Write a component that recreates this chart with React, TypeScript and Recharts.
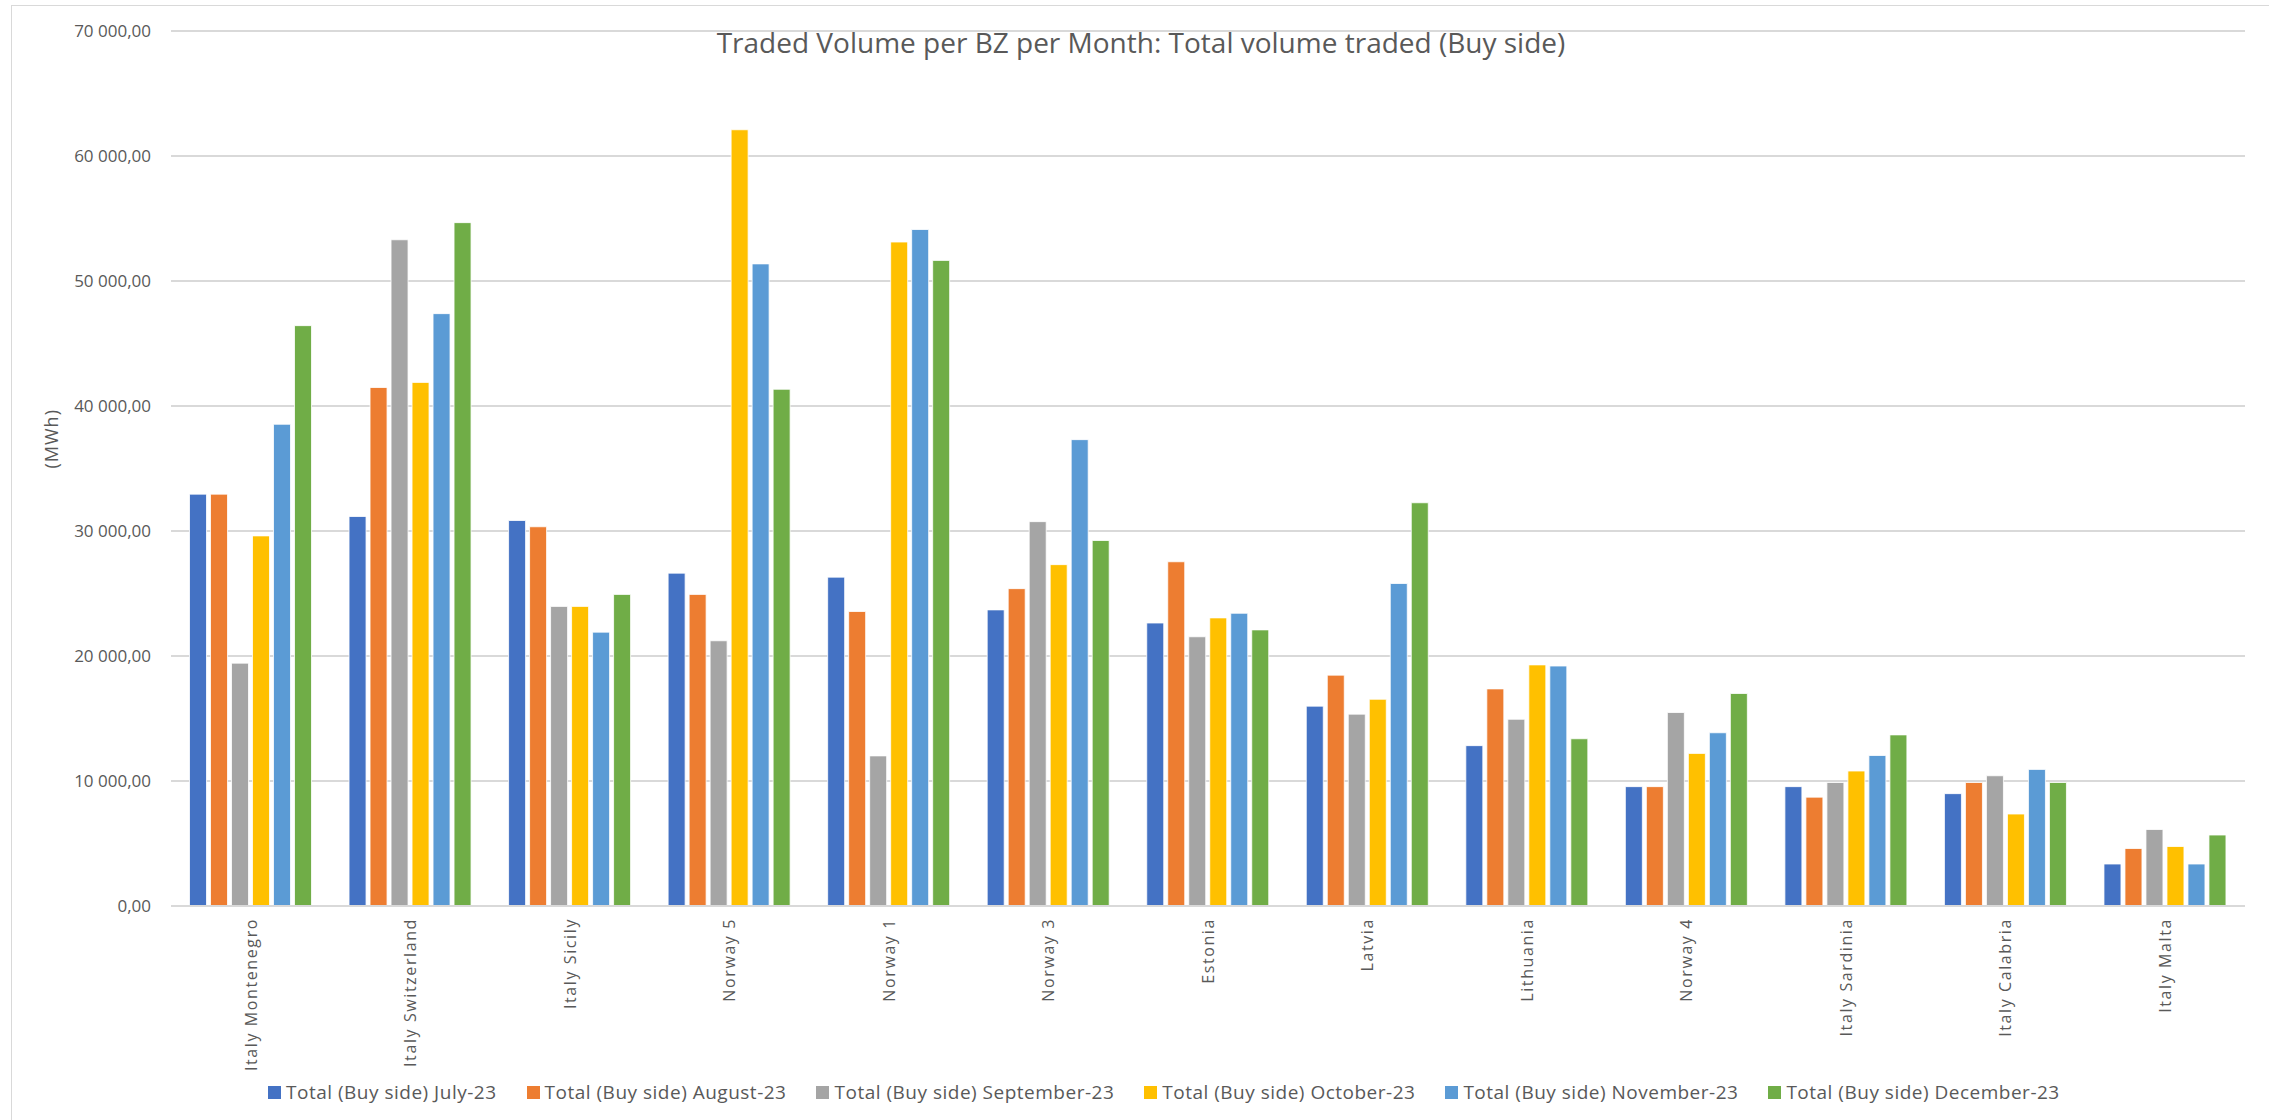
import React from 'react';
import { BarChart, Bar, XAxis, YAxis, CartesianGrid, Legend } from 'recharts';

const categories = ['Italy Montenegro', 'Italy Switzerland', 'Italy Sicily', 'Norway 5', 'Norway 1', 'Norway 3', 'Estonia', 'Latvia', 'Lithuania', 'Norway 4', 'Italy Sardinia', 'Italy Calabria', 'Italy Malta'];
const july23 = [32950, 31160, 30840, 26630, 26310, 23690, 22640, 15990, 12830, 9550, 9550, 8990, 3360];
const august23 = [32950, 41480, 30340, 24930, 23560, 25390, 27540, 18470, 17370, 9550, 8710, 9880, 4600];
const september23 = [19430, 53300, 23970, 21220, 12010, 30750, 21540, 15350, 14940, 15480, 9880, 10420, 6120];
const october23 = [29610, 41890, 23970, 62100, 53120, 27310, 23050, 16540, 19290, 12210, 10800, 7360, 4760];
const november23 = [38540, 47390, 21910, 51370, 54120, 37310, 23420, 25800, 19200, 13860, 12040, 10930, 3360];
const december23 = [46430, 54670, 24930, 41340, 51650, 29240, 22090, 32260, 13380, 17000, 13690, 9880, 5680];
const yTicks = [0, 10000, 20000, 30000, 40000, 50000, 60000, 70000];

const seriesNames = [
  'Total (Buy side) July-23',
  'Total (Buy side) August-23',
  'Total (Buy side) September-23',
  'Total (Buy side) October-23',
  'Total (Buy side) November-23',
  'Total (Buy side) December-23',
];
const seriesKeys = ['jul', 'aug', 'sep', 'oct', 'nov', 'dec'];
const seriesColors = ['#4472C4', '#ED7D31', '#A5A5A5', '#FFC000', '#5B9BD5', '#70AD47'];

const data = categories.map((c, i) => ({
  name: c,
  jul: july23[i],
  aug: august23[i],
  sep: september23[i],
  oct: october23[i],
  nov: november23[i],
  dec: december23[i],
}));

const FONT = '"Open Sans", "Liberation Sans", sans-serif';
const TEXT = '#595959';

const fmt = (v: number) => {
  const s = Math.round(v).toString().replace(/\B(?=(\d{3})+(?!\d))/g, ' ');
  return s + ',00';
};

const YTick = (props: any) => {
  const { y, payload } = props;
  return (
    <text x={151} y={y} dy="0.35em" textAnchor="end" fill={TEXT} fontSize={17} fontFamily={FONT}>
      {fmt(payload.value)}
    </text>
  );
};

const XTick = (props: any) => {
  const { x, y, payload } = props;
  return (
    <g transform={`translate(${x},${y + 4}) rotate(-90)`}>
      <text x={0} y={0} dy="0.36em" textAnchor="end" fill={TEXT} fontSize={16} letterSpacing={1.6} fontFamily={FONT}>
        {payload.value}
      </text>
    </g>
  );
};

const LegendContent = (props: any) => {
  const { payload } = props;
  const items = [...(payload || [])].sort(
    (a: any, b: any) => seriesNames.indexOf(a.value) - seriesNames.indexOf(b.value)
  );
  return (
    <div style={{ display: 'flex', flexDirection: 'row', alignItems: 'center', whiteSpace: 'nowrap' }}>
      {items.map((p: any, i: number) => (
        <div key={i} style={{ display: 'flex', alignItems: 'center', marginRight: 30 }}>
          <div style={{ width: 13, height: 13, background: p.color, marginRight: 5 }} />
          <span style={{ fontFamily: FONT, fontSize: 19, letterSpacing: 0.5, color: TEXT, lineHeight: '20px' }}>{p.value}</span>
        </div>
      ))}
    </div>
  );
};

export default function App() {
  return (
    <div style={{ position: 'absolute', left: 0, top: 0, width: 2269, height: 1120, background: '#fff', overflow: 'hidden' }}>
      <div style={{ position: 'absolute', left: 11, top: 5, width: 2300, height: 1200, borderTop: '1.5px solid #d9d9d9', borderLeft: '1.5px solid #d9d9d9' }} />
      <div style={{ position: 'absolute', left: 0, top: 28, width: 2282, textAlign: 'center', fontFamily: FONT, fontSize: 28, lineHeight: '28px', color: TEXT }}>
        Traded Volume per BZ per Month: Total volume traded (Buy side)
      </div>
      <div style={{ position: 'absolute', left: 0, top: 0 }}>
        <BarChart
          width={2269}
          height={1120}
          data={data}
          margin={{ top: 31, right: 24, left: 0, bottom: 0 }}
          barCategoryGap="11.6%"
          barGap={4}
        >
          <CartesianGrid vertical={false} stroke="#d9d9d9" strokeWidth={2} />
          <XAxis
            dataKey="name"
            height={214}
            interval={0}
            tickLine={false}
            axisLine={{ stroke: '#d9d9d9', strokeWidth: 2 }}
            tick={<XTick />}
          />
          <YAxis
            width={171}
            domain={[0, 70000]}
            ticks={yTicks}
            interval={0}
            tickLine={false}
            axisLine={false}
            tick={<YTick />}
            label={{ value: '(MWh)', angle: -90, position: 'insideLeft', dx: 47, fill: TEXT, fontSize: 18, fontFamily: FONT, letterSpacing: 1 }}
          />
          <Legend
            layout="horizontal"
            verticalAlign="middle"
            align="center"
            content={<LegendContent />}
            wrapperStyle={{ top: 1082, left: 268, width: 'auto' }}
          />
          {seriesKeys.map((k, i) => (
            <Bar key={k} dataKey={k} name={seriesNames[i]} fill={seriesColors[i]} stroke="#ffffff" strokeWidth={0.8} isAnimationActive={false} />
          ))}
        </BarChart>
      </div>
    </div>
  );
}
